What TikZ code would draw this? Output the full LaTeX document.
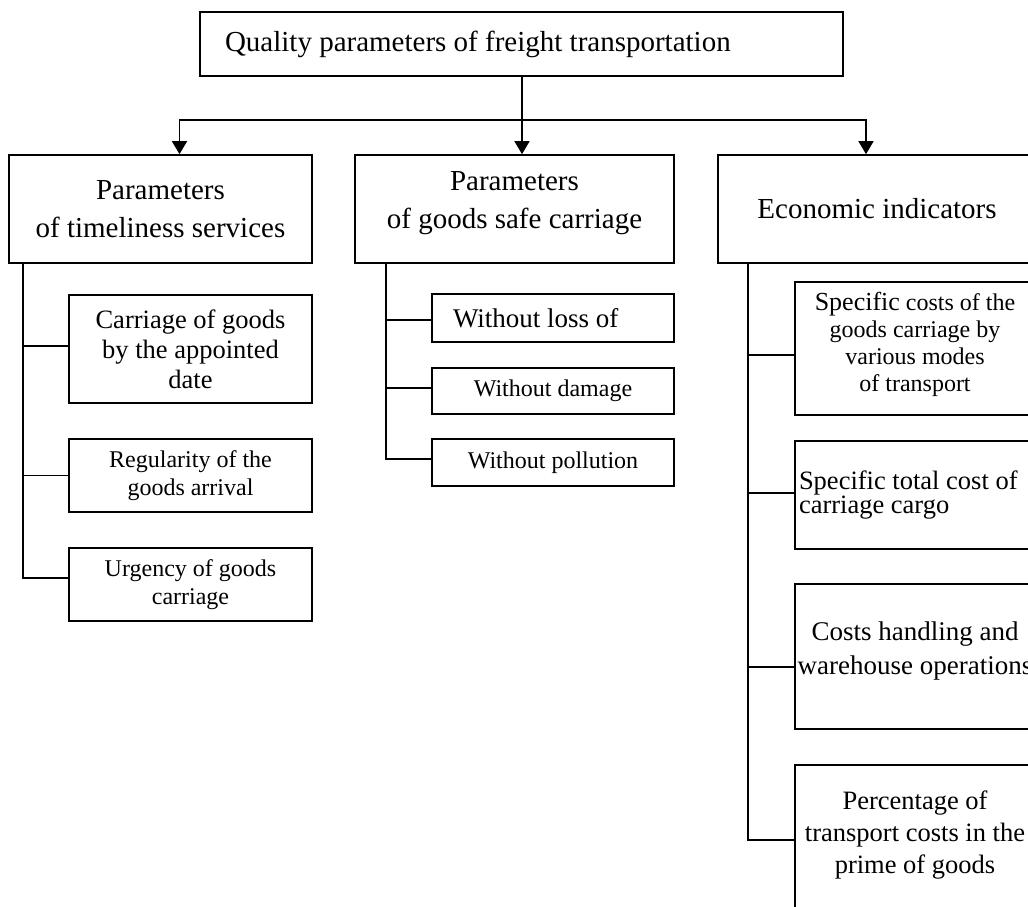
\documentclass[tikz,border=0pt]{standalone}
\usepackage{fontspec}
\setmainfont{Liberation Serif}
\usetikzlibrary{arrows.meta}
\begin{document}
\begin{tikzpicture}[x=1pt,y=-1pt,
  bx/.style={draw, line width=1.7pt, inner sep=0pt, align=center},
  ln/.style={line width=1.7pt},
  ar/.style={line width=1.7pt, -{Triangle[width=15pt,length=13pt]}},
  fA/.style={font=\fontsize{29}{38}\selectfont},
  fB/.style={font=\fontsize{26.5}{30}\selectfont},
  fC/.style={font=\fontsize{24}{28}\selectfont},
  fD/.style={font=\fontsize{27}{32}\selectfont}
]
\useasboundingbox (0,0) rectangle (1028,906);
\clip (0,0) rectangle (1028,906);

% top
\node[bx, minimum width=643pt, minimum height=64pt, text width=593pt, align=flush left, inner xsep=25pt, fA] (top) at (521.5,44) {Quality parameters of freight transportation};

% level 1
\node[bx, minimum width=303pt, minimum height=108pt, fA] (L) at (160.5,209) {Parameters\\of timeliness services};
\node[bx, minimum width=319pt, minimum height=108pt, fA, text depth=18pt] (M) at (514.5,209) {Parameters\\of goods safe carriage};
\node[bx, minimum width=318pt, minimum height=108pt, fA] (R) at (877,209) {Economic indicators};

% left children
\node[bx, minimum width=243pt, minimum height=108pt, fB] (L1) at (190.5,349) {Carriage of goods\\by the appointed\\date};
\node[bx, minimum width=243pt, minimum height=73pt, fC] (L2) at (190.5,475.5) {Regularity of the\\goods arrival};
\node[bx, minimum width=243pt, minimum height=73pt, fC] (L3) at (190.5,584.5) {Urgency of goods\\carriage};

% middle children
\node[bx, minimum width=242pt, minimum height=48pt, text width=200pt, inner xsep=21pt, align=flush left, fD] (M1) at (553,318) {Without loss of};
\node[bx, minimum width=242pt, minimum height=46pt, fC] (M2) at (553,391) {Without damage};
\node[bx, minimum width=242pt, minimum height=47pt, fC] (M3) at (553,462.5) {Without pollution};

% right children
\node[bx, minimum width=240pt, minimum height=133pt, text depth=13pt, font=\fontsize{24}{27}\selectfont] (R1) at (915,348.5) {{\fontsize{26}{27}\selectfont Specific} costs of the\\goods carriage by\\various modes\\of transport};
\node[bx, minimum width=240pt, minimum height=108pt, text width=232pt, inner xsep=4pt, align=flush left, font=\fontsize{26.5}{24}\selectfont] (R2) at (915,495) {Specific total cost of\\carriage cargo};
\node[bx, minimum width=240pt, minimum height=145pt, text depth=16pt, font=\fontsize{27}{34}\selectfont] (R3) at (915,656.5) {Costs handling and\\warehouse operations};
\node[bx, minimum width=240pt, minimum height=150pt, text depth=16pt, font=\fontsize{26.5}{32}\selectfont] (R4) at (915,840) {Percentage of\\transport costs in the\\prime of goods};

% top arrows
\coordinate (bus) at (522,120);
\draw[ar] (bus |- top.south) -- (bus |- M.north);
\draw[ar] (bus) -| ([xshift=19pt]L.north);
\draw[ar] (bus) -| ([xshift=-11pt]R.north);

% connector end points
\coordinate (cL1) at ([yshift=3pt]L1.west);
\coordinate (cL3) at ([yshift=6.5pt]L3.west);
\coordinate (cM1) at ([yshift=-2pt]M1.west);
\coordinate (cM2) at ([yshift=3pt]M2.west);
\coordinate (cM3) at ([yshift=3.5pt]M3.west);
\coordinate (cR1) at ([yshift=-6.5pt]R1.west);
\coordinate (cR2) at ([yshift=2pt]R2.west);
\coordinate (cR3) at ([yshift=-10.5pt]R3.west);

% left trunk
\coordinate (lt) at ([xshift=15pt]L.south west);
\draw[ln] (lt) |- (cL3);
\draw[ln] (lt |- cL1) -- (cL1);
\draw[ln] (lt |- L2.west) -- (L2.west);

% middle trunk
\coordinate (mt) at ([xshift=32pt]M.south west);
\draw[ln] (mt) |- (cM3);
\draw[ln] (mt |- cM1) -- (cM1);
\draw[ln] (mt |- cM2) -- (cM2);

% right trunk
\coordinate (rt) at ([xshift=31pt]R.south west);
\draw[ln] (rt) |- (R4.west);
\draw[ln] (rt |- cR1) -- (cR1);
\draw[ln] (rt |- cR2) -- (cR2);
\draw[ln] (rt |- cR3) -- (cR3);
\end{tikzpicture}
\end{document}
